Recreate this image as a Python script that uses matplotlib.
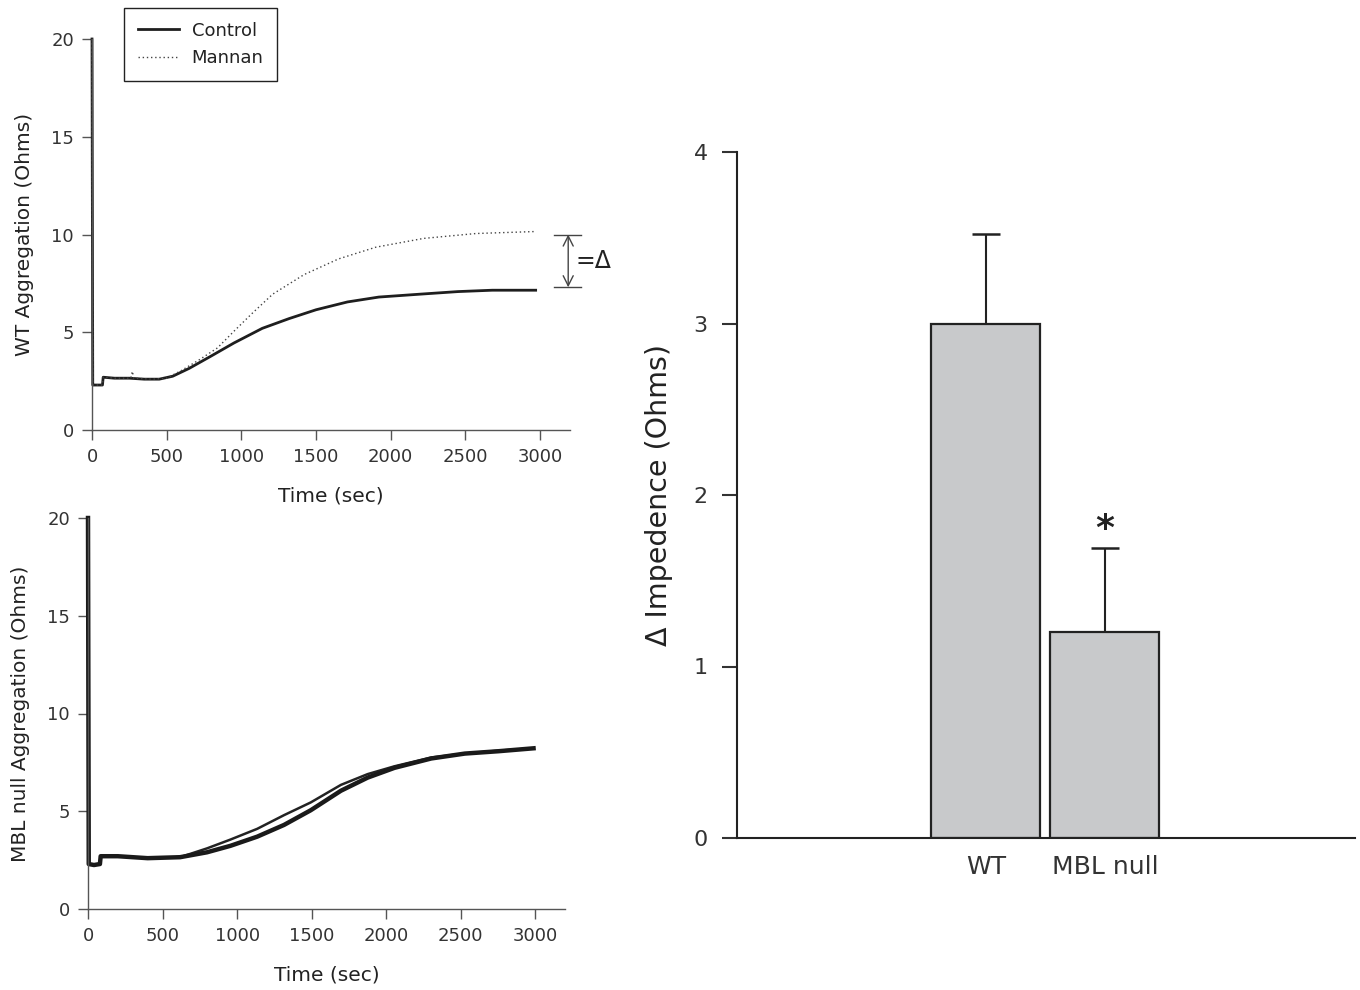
import matplotlib
matplotlib.use("Agg")
import matplotlib.pyplot as plt

plt.rcParams['font.family'] = ['DejaVu Sans']
plt.rcParams['text.color'] = '#222222'
plt.rcParams['axes.labelcolor'] = '#222222'
plt.rcParams['xtick.color'] = '#333333'
plt.rcParams['ytick.color'] = '#333333'

# ---------------- data ----------------
# WT aggregation traces (time in sec, impedance in Ohms)
wt_ctrl_t = [0, 5, 15, 70, 75, 150, 250, 350, 450, 540, 650, 790, 950, 1140, 1320,
             1500, 1710, 1920, 2200, 2450, 2680, 2970]
wt_ctrl_v = [20, 2.3, 2.3, 2.3, 2.7, 2.65, 2.65, 2.6, 2.6, 2.75, 3.15, 3.75, 4.45, 5.2, 5.7,
             6.15, 6.55, 6.8, 6.95, 7.08, 7.15, 7.15]
wt_mann_t = [0, 5, 15, 70, 75, 150, 260, 270, 280, 400, 500, 600, 720, 840, 950, 1070,
             1210, 1420, 1650, 1900, 2220, 2570, 2960]
wt_mann_v = [20, 2.3, 2.3, 2.3, 2.7, 2.65, 2.65, 3.0, 2.65, 2.6, 2.65, 3.05, 3.6, 4.2, 5.05, 5.95,
             6.95, 7.95, 8.75, 9.35, 9.8, 10.05, 10.15]

# MBL null aggregation traces
mbl_a_t = [0, 5, 40, 80, 85, 200, 400, 618, 798, 955, 1135, 1315, 1494, 1697, 1876,
           2056, 2303, 2528, 2753, 2989]
mbl_a_v = [20, 2.3, 2.25, 2.3, 2.7, 2.7, 2.6, 2.65, 3.1, 3.55, 4.1, 4.8, 5.45, 6.35, 6.9,
           7.3, 7.75, 7.95, 8.1, 8.22]
mbl_b_t = [0, 5, 40, 80, 85, 200, 400, 618, 798, 955, 1135, 1315, 1494, 1697, 1876,
           2056, 2303, 2528, 2753, 2989]
mbl_b_v = [20, 2.3, 2.25, 2.3, 2.7, 2.7, 2.6, 2.65, 2.9, 3.23, 3.7, 4.3, 5.05, 6.05, 6.72,
           7.22, 7.7, 7.95, 8.07, 8.22]

# Delta bracket in WT panel
delta_low = 7.3
delta_high = 10.0

# Bar chart
bar_labels = ['WT', 'MBL null']
bar_values = [3.0, 1.2]
bar_errors = [0.52, 0.49]

time_ticks = [0, 500, 1000, 1500, 2000, 2500, 3000]
agg_ticks = [0, 5, 10, 15, 20]
bar_ticks = [0, 1, 2, 3, 4]

# ---------------- figure ----------------
W, H = 1360, 990
fig = plt.figure(figsize=(13.6, 9.9), dpi=100)

def fr(l, r, t, b):
    return [l / W, 1 - b / H, (r - l) / W, (b - t) / H]

ax1 = fig.add_axes(fr(92, 570, 39, 430))
ax2 = fig.add_axes(fr(88, 565, 518, 909))
ax3 = fig.add_axes(fr(737, 1355, 152, 838))

for ax in (ax1, ax2):
    for s in ('top', 'right'):
        ax.spines[s].set_visible(False)
    for s in ('left', 'bottom'):
        ax.spines[s].set_color('#555555')
        ax.spines[s].set_linewidth(1.0)
    ax.set_xlim(0, 3200)
    ax.set_ylim(0, 20)
    ax.set_xticks(time_ticks)
    ax.set_yticks(agg_ticks)
    ax.tick_params(direction='out', length=7, width=1.0, color='#555555',
                   labelsize=13, pad=6)
    ax.set_xlabel('Time (sec)', fontsize=14.5, labelpad=15)

# WT panel
ax1.plot(wt_ctrl_t, wt_ctrl_v, color='#1e1e1e', lw=2.0, label='Control', clip_on=False)
ax1.plot(wt_mann_t, wt_mann_v, color='#444444', lw=1.0, linestyle=(0, (1, 2)),
         label='Mannan', clip_on=False)
ax1.set_ylabel('WT Aggregation (Ohms)', fontsize=14.5, labelpad=12)

# Delta bracket
bx0, bx1, bxm = 3094, 3275, 3188
ax1.plot([bx0, bx1], [delta_high, delta_high], color='#444444', lw=1.0, clip_on=False)
ax1.plot([bx0, bx1], [delta_low, delta_low], color='#444444', lw=1.0, clip_on=False)
ax1.annotate('', xy=(bxm, delta_high), xytext=(bxm, delta_low),
             arrowprops=dict(arrowstyle='<->', color='#444444', lw=1.0,
                             shrinkA=0, shrinkB=0, mutation_scale=18),
             annotation_clip=False)
ax1.text(3240, (delta_high + delta_low) / 2, '=Δ', fontsize=17, ha='left', va='center',
         clip_on=False)

leg = fig.legend(loc='upper left', bbox_to_anchor=(124 / W, 1 - 8 / H),
                 borderaxespad=0, fancybox=False, framealpha=1, edgecolor='#222222',
                 fontsize=13, handlelength=2.3, borderpad=0.75, labelspacing=0.55,
                 handletextpad=0.7)
leg.get_frame().set_linewidth(1.0)

# MBL null panel
ax2.plot(mbl_a_t, mbl_a_v, color='#222222', lw=1.8, clip_on=False)
ax2.plot(mbl_b_t, mbl_b_v, color='#1a1a1a', lw=3.2, clip_on=False)
ax2.set_ylabel('MBL null Aggregation (Ohms)', fontsize=14.5, labelpad=12)

# Bar panel
xpos = list(range(len(bar_labels)))
ax3.bar(xpos, bar_values, width=0.916, color='#c8c9cb', edgecolor='#222222',
        linewidth=1.6, zorder=2)
ax3.errorbar(xpos, bar_values, yerr=[[0] * len(bar_errors), bar_errors], fmt='none',
             ecolor='#222222', elinewidth=1.5, capsize=10, capthick=1.8, zorder=1)
ax3.text(1, bar_values[1] + bar_errors[1] + 0.11, '*', fontsize=26, fontweight='bold',
         ha='center', va='center')
ax3.set_xlim(-2.09, 3.10)
ax3.set_ylim(0, 4)
ax3.set_yticks(bar_ticks)
ax3.set_xticks(xpos)
ax3.set_xticklabels(bar_labels)
for s in ('top', 'right'):
    ax3.spines[s].set_visible(False)
for s in ('left', 'bottom'):
    ax3.spines[s].set_color('#222222')
    ax3.spines[s].set_linewidth(1.5)
ax3.tick_params(axis='y', direction='out', length=11, width=1.5, labelsize=16, pad=10)
ax3.tick_params(axis='x', length=0, labelsize=18, pad=12)
ax3.set_ylabel('Δ Impedence (Ohms)', fontsize=20.5, labelpad=15)

fig.savefig('out.png', dpi=100)
